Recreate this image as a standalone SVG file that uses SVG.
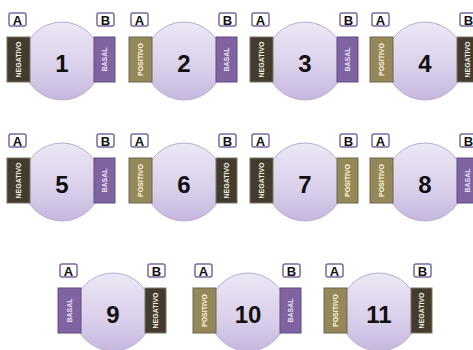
<svg xmlns="http://www.w3.org/2000/svg" width="473" height="350" viewBox="0 0 473 350">
<defs>
<linearGradient id="cg" x1="0" y1="0" x2="0" y2="1">
<stop offset="0" stop-color="#ece7f5"/>
<stop offset="0.6" stop-color="#d9cfea"/>
<stop offset="1" stop-color="#c6b7de"/>
</linearGradient>
<style>
.c{fill:url(#cg);stroke:#b9acd3;stroke-width:1}
.n{font-family:"Liberation Sans",Arial,sans-serif;font-weight:bold;font-size:24px;fill:#111;text-anchor:middle}
.lb{fill:#fff;stroke:#7a68a0;stroke-width:1.5}
.lt{font-family:"Liberation Sans",Arial,sans-serif;font-weight:bold;font-size:13px;fill:#111;text-anchor:middle}
.neg{fill:#433c2e;stroke:#7a7462;stroke-width:1}
.pos{fill:#958858;stroke:#6b6450;stroke-width:1}
.bas{fill:#8064a2;stroke:#5e4a86;stroke-width:1}
.rt{font-family:"Liberation Sans",Arial,sans-serif;font-weight:bold;font-size:7px;text-anchor:middle;dominant-baseline:central}
.tneg{fill:#f3f0e6}
.tpos{fill:#fbf6dc}
.tbas{fill:#ece4f6}
</style>
</defs>

<g id="node1" transform="translate(7,13)">
<circle class="c" cx="55" cy="48" r="39"/>
<rect class="neg" x="0" y="24" width="23" height="45"/><text class="rt tneg" transform="translate(11.5,46.5) rotate(-90)">NEGATIVO</text>
<rect class="bas" x="87" y="24" width="21" height="45"/><text class="rt tbas" transform="translate(97.5,46.5) rotate(-90)">BASAL</text>
<rect class="lb" x="2" y="0" width="17" height="13" rx="2"/><text class="lt" x="10.5" y="11.5">A</text>
<rect class="lb" x="90" y="0" width="17" height="13" rx="2"/><text class="lt" x="98.5" y="11.5">B</text>
<text class="n" x="55" y="58.5">1</text>
</g>

<g id="node2" transform="translate(129,13)">
<circle class="c" cx="55" cy="48" r="39"/>
<rect class="pos" x="0" y="24" width="23" height="45"/><text class="rt tpos" transform="translate(11.5,46.5) rotate(-90)">POSITIVO</text>
<rect class="bas" x="87" y="24" width="21" height="45"/><text class="rt tbas" transform="translate(97.5,46.5) rotate(-90)">BASAL</text>
<rect class="lb" x="2" y="0" width="17" height="13" rx="2"/><text class="lt" x="10.5" y="11.5">A</text>
<rect class="lb" x="90" y="0" width="17" height="13" rx="2"/><text class="lt" x="98.5" y="11.5">B</text>
<text class="n" x="55" y="58.5">2</text>
</g>

<g id="node3" transform="translate(250,13)">
<circle class="c" cx="55" cy="48" r="39"/>
<rect class="neg" x="0" y="24" width="23" height="45"/><text class="rt tneg" transform="translate(11.5,46.5) rotate(-90)">NEGATIVO</text>
<rect class="bas" x="87" y="24" width="21" height="45"/><text class="rt tbas" transform="translate(97.5,46.5) rotate(-90)">BASAL</text>
<rect class="lb" x="2" y="0" width="17" height="13" rx="2"/><text class="lt" x="10.5" y="11.5">A</text>
<rect class="lb" x="90" y="0" width="17" height="13" rx="2"/><text class="lt" x="98.5" y="11.5">B</text>
<text class="n" x="55" y="58.5">3</text>
</g>

<g id="node4" transform="translate(370,13)">
<circle class="c" cx="55" cy="48" r="39"/>
<rect class="pos" x="0" y="24" width="23" height="45"/><text class="rt tpos" transform="translate(11.5,46.5) rotate(-90)">POSITIVO</text>
<rect class="neg" x="87" y="24" width="21" height="45"/><text class="rt tneg" transform="translate(97.5,46.5) rotate(-90)">NEGATIVO</text>
<rect class="lb" x="2" y="0" width="17" height="13" rx="2"/><text class="lt" x="10.5" y="11.5">A</text>
<rect class="lb" x="90" y="0" width="17" height="13" rx="2"/><text class="lt" x="98.5" y="11.5">B</text>
<text class="n" x="55" y="58.5">4</text>
</g>

<g id="node5" transform="translate(7,134)">
<circle class="c" cx="55" cy="48" r="39"/>
<rect class="neg" x="0" y="24" width="23" height="45"/><text class="rt tneg" transform="translate(11.5,46.5) rotate(-90)">NEGATIVO</text>
<rect class="bas" x="87" y="24" width="21" height="45"/><text class="rt tbas" transform="translate(97.5,46.5) rotate(-90)">BASAL</text>
<rect class="lb" x="2" y="0" width="17" height="13" rx="2"/><text class="lt" x="10.5" y="11.5">A</text>
<rect class="lb" x="90" y="0" width="17" height="13" rx="2"/><text class="lt" x="98.5" y="11.5">B</text>
<text class="n" x="55" y="58.5">5</text>
</g>

<g id="node6" transform="translate(129,134)">
<circle class="c" cx="55" cy="48" r="39"/>
<rect class="pos" x="0" y="24" width="23" height="45"/><text class="rt tpos" transform="translate(11.5,46.5) rotate(-90)">POSITIVO</text>
<rect class="neg" x="87" y="24" width="21" height="45"/><text class="rt tneg" transform="translate(97.5,46.5) rotate(-90)">NEGATIVO</text>
<rect class="lb" x="2" y="0" width="17" height="13" rx="2"/><text class="lt" x="10.5" y="11.5">A</text>
<rect class="lb" x="90" y="0" width="17" height="13" rx="2"/><text class="lt" x="98.5" y="11.5">B</text>
<text class="n" x="55" y="58.5">6</text>
</g>

<g id="node7" transform="translate(250,134)">
<circle class="c" cx="55" cy="48" r="39"/>
<rect class="neg" x="0" y="24" width="23" height="45"/><text class="rt tneg" transform="translate(11.5,46.5) rotate(-90)">NEGATIVO</text>
<rect class="pos" x="87" y="24" width="21" height="45"/><text class="rt tpos" transform="translate(97.5,46.5) rotate(-90)">POSITIVO</text>
<rect class="lb" x="2" y="0" width="17" height="13" rx="2"/><text class="lt" x="10.5" y="11.5">A</text>
<rect class="lb" x="90" y="0" width="17" height="13" rx="2"/><text class="lt" x="98.5" y="11.5">B</text>
<text class="n" x="55" y="58.5">7</text>
</g>

<g id="node8" transform="translate(370,134)">
<circle class="c" cx="55" cy="48" r="39"/>
<rect class="pos" x="0" y="24" width="23" height="45"/><text class="rt tpos" transform="translate(11.5,46.5) rotate(-90)">POSITIVO</text>
<rect class="bas" x="87" y="24" width="21" height="45"/><text class="rt tbas" transform="translate(97.5,46.5) rotate(-90)">BASAL</text>
<rect class="lb" x="2" y="0" width="17" height="13" rx="2"/><text class="lt" x="10.5" y="11.5">A</text>
<rect class="lb" x="90" y="0" width="17" height="13" rx="2"/><text class="lt" x="98.5" y="11.5">B</text>
<text class="n" x="55" y="58.5">8</text>
</g>

<g id="node9" transform="translate(58,264)">
<circle class="c" cx="55" cy="48" r="39"/>
<rect class="bas" x="0" y="24" width="23" height="45"/><text class="rt tbas" transform="translate(11.5,46.5) rotate(-90)">BASAL</text>
<rect class="neg" x="87" y="24" width="21" height="45"/><text class="rt tneg" transform="translate(97.5,46.5) rotate(-90)">NEGATIVO</text>
<rect class="lb" x="2" y="0" width="17" height="13" rx="2"/><text class="lt" x="10.5" y="11.5">A</text>
<rect class="lb" x="90" y="0" width="17" height="13" rx="2"/><text class="lt" x="98.5" y="11.5">B</text>
<text class="n" x="55" y="58.5">9</text>
</g>

<g id="node10" transform="translate(193,264)">
<circle class="c" cx="55" cy="48" r="39"/>
<rect class="pos" x="0" y="24" width="23" height="45"/><text class="rt tpos" transform="translate(11.5,46.5) rotate(-90)">POSITIVO</text>
<rect class="bas" x="87" y="24" width="21" height="45"/><text class="rt tbas" transform="translate(97.5,46.5) rotate(-90)">BASAL</text>
<rect class="lb" x="2" y="0" width="17" height="13" rx="2"/><text class="lt" x="10.5" y="11.5">A</text>
<rect class="lb" x="90" y="0" width="17" height="13" rx="2"/><text class="lt" x="98.5" y="11.5">B</text>
<text class="n" x="55" y="58.5">10</text>
</g>

<g id="node11" transform="translate(324,264)">
<circle class="c" cx="55" cy="48" r="39"/>
<rect class="pos" x="0" y="24" width="23" height="45"/><text class="rt tpos" transform="translate(11.5,46.5) rotate(-90)">POSITIVO</text>
<rect class="neg" x="87" y="24" width="21" height="45"/><text class="rt tneg" transform="translate(97.5,46.5) rotate(-90)">NEGATIVO</text>
<rect class="lb" x="2" y="0" width="17" height="13" rx="2"/><text class="lt" x="10.5" y="11.5">A</text>
<rect class="lb" x="90" y="0" width="17" height="13" rx="2"/><text class="lt" x="98.5" y="11.5">B</text>
<text class="n" x="55" y="58.5">11</text>
</g>

<g id="connectors"/>
</svg>
